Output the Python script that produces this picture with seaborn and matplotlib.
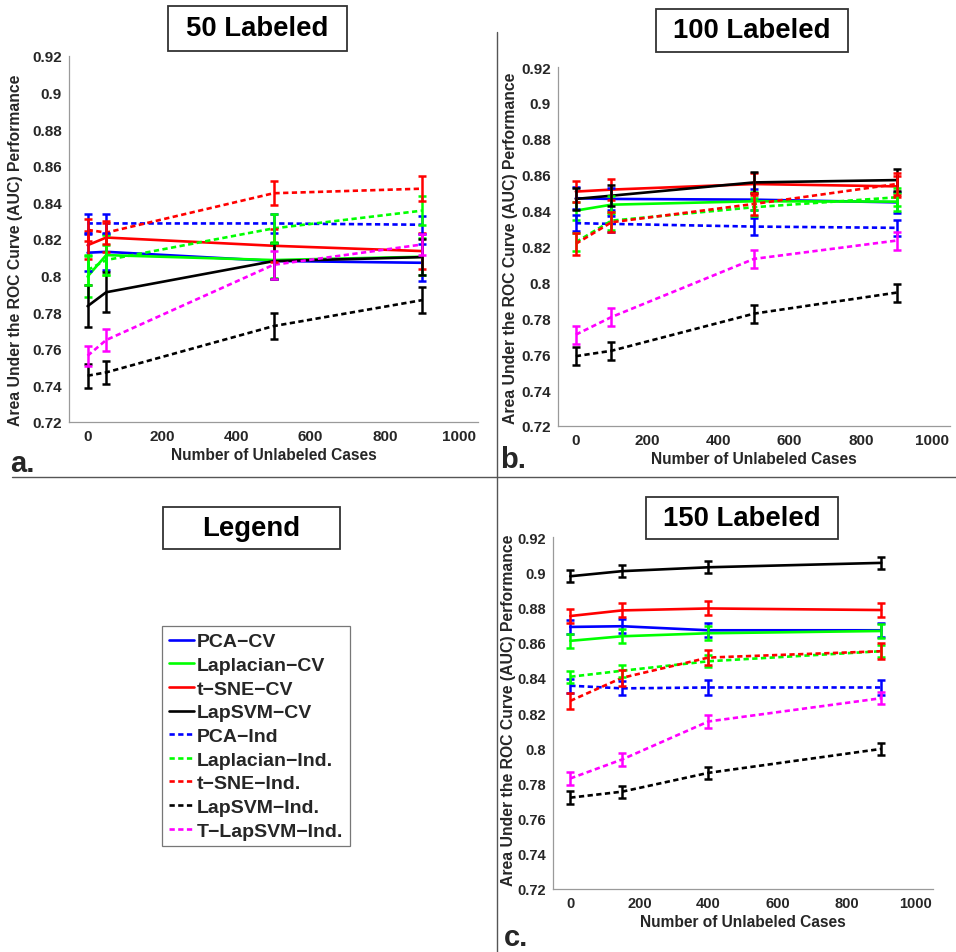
import numpy as np
import pandas as pd
import matplotlib
matplotlib.use("Agg")
import matplotlib.pyplot as plt
import seaborn as sns
from matplotlib.lines import Line2D
from matplotlib.patches import Rectangle
from matplotlib.ticker import FuncFormatter

sns.set_style("white")
plt.rcParams["font.family"] = ["Liberation Sans", "DejaVu Sans"]
plt.rcParams["font.weight"] = "bold"

# ---- data -------------------------------------------------------------
methods = ["PCA\u2212CV", "Laplacian\u2212CV", "t\u2212SNE\u2212CV", "LapSVM\u2212CV",
           "PCA\u2212Ind", "Laplacian\u2212Ind.", "t\u2212SNE\u2212Ind.", "LapSVM\u2212Ind.",
           "T\u2212LapSVM\u2212Ind."]
colors = ["#0000ff", "#00ff00", "#ff0000", "#000000",
          "#0000ff", "#00ff00", "#ff0000", "#000000", "#ff00ff"]
is_dashed = [False, False, False, False, True, True, True, True, True]

unlabeled_50 = [0, 50, 500, 900]
auc_50 = [
    [0.8125, 0.8130, 0.8080, 0.8070],
    [0.7995, 0.8112, 0.8085, 0.8103],
    [0.8166, 0.8208, 0.8163, 0.8134],
    [0.7833, 0.7909, 0.8079, 0.8101],
    [0.8285, 0.8285, 0.8285, 0.8278],
    [0.8030, 0.8085, 0.8258, 0.8355],
    [0.8250, 0.8235, 0.8450, 0.8475],
    [0.7453, 0.7471, 0.7724, 0.7866],
    [0.7562, 0.7648, 0.8059, 0.8170],
]
err_50 = [
    [0.0100, 0.0100, 0.0100, 0.0100],
    [0.0110, 0.0110, 0.0100, 0.0100],
    [0.0075, 0.0080, 0.0090, 0.0100],
    [0.0115, 0.0110, 0.0100, 0.0100],
    [0.0050, 0.0050, 0.0050, 0.0050],
    [0.0080, 0.0080, 0.0080, 0.0080],
    [0.0060, 0.0065, 0.0065, 0.0070],
    [0.0065, 0.0065, 0.0070, 0.0070],
    [0.0055, 0.0060, 0.0075, 0.0060],
]

unlabeled_100 = [0, 100, 500, 900]
auc_100 = [
    [0.8469, 0.8465, 0.8461, 0.8446],
    [0.8400, 0.8433, 0.8452, 0.8450],
    [0.8506, 0.8517, 0.8548, 0.8535],
    [0.8465, 0.8483, 0.8557, 0.8570],
    [0.8330, 0.8326, 0.8311, 0.8304],
    [0.8224, 0.8344, 0.8419, 0.8474],
    [0.8215, 0.8335, 0.8437, 0.8548],
    [0.7589, 0.7619, 0.7826, 0.7943],
    [0.7709, 0.7807, 0.8131, 0.8233],
]
err_100 = [
    [0.0060, 0.0060, 0.0060, 0.0060],
    [0.0050, 0.0050, 0.0050, 0.0050],
    [0.0060, 0.0060, 0.0060, 0.0060],
    [0.0060, 0.0060, 0.0060, 0.0060],
    [0.0045, 0.0045, 0.0045, 0.0045],
    [0.0050, 0.0050, 0.0050, 0.0050],
    [0.0060, 0.0055, 0.0060, 0.0060],
    [0.0050, 0.0050, 0.0050, 0.0050],
    [0.0050, 0.0050, 0.0050, 0.0050],
]

unlabeled_150 = [0, 150, 400, 900]
auc_150 = [
    [0.8689, 0.8693, 0.8670, 0.8670],
    [0.8610, 0.8636, 0.8653, 0.8666],
    [0.8751, 0.8783, 0.8794, 0.8785],
    [0.8977, 0.9006, 0.9028, 0.9053],
    [0.8355, 0.8340, 0.8345, 0.8345],
    [0.8406, 0.8440, 0.8494, 0.8551],
    [0.8269, 0.8400, 0.8515, 0.8551],
    [0.7719, 0.7753, 0.7860, 0.7996],
    [0.7828, 0.7936, 0.8152, 0.8284],
]
err_150 = [
    [0.0040, 0.0040, 0.0040, 0.0040],
    [0.0040, 0.0040, 0.0040, 0.0040],
    [0.0040, 0.0040, 0.0040, 0.0040],
    [0.0035, 0.0035, 0.0035, 0.0035],
    [0.0040, 0.0040, 0.0040, 0.0040],
    [0.0035, 0.0035, 0.0035, 0.0035],
    [0.0045, 0.0045, 0.0045, 0.0045],
    [0.0035, 0.0035, 0.0035, 0.0035],
    [0.0035, 0.0035, 0.0035, 0.0035],
]

y_ticks = [0.72, 0.74, 0.76, 0.78, 0.80, 0.82, 0.84, 0.86, 0.88, 0.90, 0.92]
x_ticks = [0, 200, 400, 600, 800, 1000]

# ---- figure -----------------------------------------------------------
W, H = 956, 953
fig = plt.figure(figsize=(W / 100, H / 100), dpi=100)
fig.patch.set_facecolor("white")


def px_axes(left, right, top, bottom):
    return fig.add_axes([left / W, 1 - bottom / H, (right - left) / W, (bottom - top) / H])


def fig_xy(x, y):
    return x / W, 1 - y / H


LW = 1.9
palette = dict(zip(methods, colors))
dash_map = {m: ((2.0, 1.3) if d else "") for m, d in zip(methods, is_dashed)}


def draw_panel(ax, xs, auc, err, ylabel_xy, tick_size):
    rows = []
    for m, vals in zip(methods, auc):
        for x, v in zip(xs, vals):
            rows.append({"unlabeled": x, "auc": v, "method": m})
    df = pd.DataFrame(rows)
    sns.lineplot(data=df, x="unlabeled", y="auc", hue="method", style="method",
                 palette=palette, dashes=dash_map, hue_order=methods,
                 style_order=methods, linewidth=LW, legend=False, ax=ax,
                 errorbar=None, sort=False)
    for m, c, vals, e in zip(methods, colors, auc, err):
        ax.errorbar(xs, vals, yerr=e, fmt="none", ecolor=c, elinewidth=1.8,
                    capsize=2.8, capthick=1.8, zorder=3)
    ax.set_xlim(-50, 1050)
    ax.set_ylim(0.72, 0.92)
    ax.set_xticks(x_ticks)
    ax.set_yticks(y_ticks)
    ax.yaxis.set_major_formatter(FuncFormatter(lambda v, _: f"{v:.2f}".rstrip("0")))
    ax.set_xlabel("Number of Unlabeled Cases", fontsize=11.2, fontweight="bold", labelpad=3)
    ax.set_ylabel("Area Under the ROC Curve (AUC) Performance", fontsize=11.3,
                  fontweight="bold")
    lx, ly = fig_xy(*ylabel_xy)
    ax.yaxis.set_label_coords(lx, ly, transform=fig.transFigure)
    for side in ("top", "right"):
        ax.spines[side].set_visible(False)
    for side in ("left", "bottom"):
        ax.spines[side].set_color("#9a9a9a")
        ax.spines[side].set_linewidth(0.9)
    ax.tick_params(axis="both", direction="out", length=3, width=0.8, color="#9a9a9a",
                   labelsize=tick_size, pad=2)
    for lab in ax.get_xticklabels() + ax.get_yticklabels():
        lab.set_fontweight("bold")
    ax.set_facecolor("white")


ax_a = px_axes(69, 478, 57, 423)
draw_panel(ax_a, unlabeled_50, auc_50, err_50, (23, 250), 11)
ax_b = px_axes(558, 950, 68, 427)
draw_panel(ax_b, unlabeled_100, auc_100, err_100, (518, 248), 11)
ax_c = px_axes(553, 933, 538, 890)
draw_panel(ax_c, unlabeled_150, auc_150, err_150, (516, 710), 10.5)


# boxed headings
def boxed_heading(text, x0, x1, y0, y1):
    fx0, fy1 = fig_xy(x0, y1)
    fig.add_artist(Rectangle((fx0, fy1), (x1 - x0) / W, (y1 - y0) / H,
                             transform=fig.transFigure, fill=False,
                             edgecolor="#333333", linewidth=1.3))
    cx, cy = fig_xy((x0 + x1) / 2, (y0 + y1) / 2)
    fig.text(cx, cy, text, ha="center", va="center", fontsize=19.8,
             fontweight="bold", color="black")


boxed_heading("50 Labeled", 168, 347, 7, 52)
boxed_heading("100 Labeled", 656, 848, 10, 53)
boxed_heading("150 Labeled", 646, 838, 498, 540)
boxed_heading("Legend", 163, 340, 508, 550)

# panel letters
for letter, (x, y) in {"a.": (10, 464), "b.": (500, 460), "c.": (504, 938)}.items():
    fx, fy = fig_xy(x, y)
    fig.text(fx, fy, letter, ha="left", va="center", fontsize=21, fontweight="bold")

# dividers between panels
fig.add_artist(Line2D([12 / W, 1.0], [1 - 478 / H, 1 - 478 / H],
                      transform=fig.transFigure, color="#555555", linewidth=1.0))
fig.add_artist(Line2D([497 / W, 497 / W], [1 - 33 / H, 0.0],
                      transform=fig.transFigure, color="#555555", linewidth=1.0))

# shared legend
handles = [Line2D([0], [0], color=c, linewidth=LW,
                  linestyle=(0, (2.0, 1.3)) if d else "-")
           for c, d in zip(colors, is_dashed)]
lx, ly = fig_xy(162, 627)
leg = fig.legend(handles, methods, loc="upper left", bbox_to_anchor=(lx, ly),
                 bbox_transform=fig.transFigure, frameon=True, fancybox=False,
                 borderaxespad=0, fontsize=14, handlelength=1.3,
                 handletextpad=0.15, labelspacing=0.31, borderpad=0.35)
leg.get_frame().set_edgecolor("#555555")
leg.get_frame().set_linewidth(0.9)
for t in leg.get_texts():
    t.set_fontweight("bold")

fig.savefig("out.png", dpi=100, facecolor="white")
